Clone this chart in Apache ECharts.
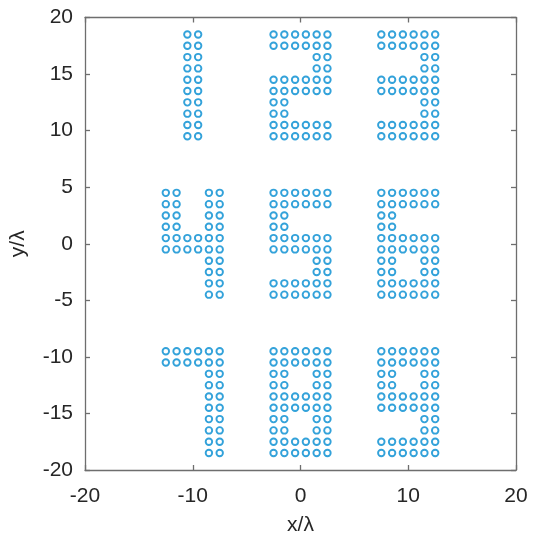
<!DOCTYPE html>
<html>
<head>
<meta charset="utf-8">
<script src="https://cdn.jsdelivr.net/npm/echarts@6/dist/echarts.min.js"></script>
<style>html,body{margin:0;padding:0;background:#fff;}#c{width:535px;height:550px;}</style>
</head>
<body>
<div id="c"></div>
<script>
// Digit bitmaps (6 columns x 10 rows, 'o' = element)
const digit1 = ['..oo..','..oo..','..oo..','..oo..','..oo..','..oo..','..oo..','..oo..','..oo..','..oo..'];
const digit2 = ['oooooo','oooooo','....oo','....oo','oooooo','oooooo','oo....','oo....','oooooo','oooooo'];
const digit3 = ['oooooo','oooooo','....oo','....oo','oooooo','oooooo','....oo','....oo','oooooo','oooooo'];
const digit4 = ['oo..oo','oo..oo','oo..oo','oo..oo','oooooo','oooooo','....oo','....oo','....oo','....oo'];
const digit5 = ['oooooo','oooooo','oo....','oo....','oooooo','oooooo','....oo','....oo','oooooo','oooooo'];
const digit6 = ['oooooo','oooooo','oo....','oo....','oooooo','oooooo','oo..oo','oo..oo','oooooo','oooooo'];
const digit7 = ['oooooo','oooooo','....oo','....oo','....oo','....oo','....oo','....oo','....oo','....oo'];
const digit8 = ['oooooo','oooooo','oo..oo','oo..oo','oooooo','oooooo','oo..oo','oo..oo','oooooo','oooooo'];
const digit9 = ['oooooo','oooooo','oo..oo','oo..oo','oooooo','oooooo','....oo','....oo','oooooo','oooooo'];
// Left column x and top row y of each digit block (in λ)
const blockLeftX = [-12.5, -2.5, 7.5];
const blockTopY = [18.5, 4.5, -9.5];
const elementPitch = 1;
const xTicks = [-20, -10, 0, 10, 20];
const yTicks = [-20, -15, -10, -5, 0, 5, 10, 15, 20];

const digits = [digit1, digit2, digit3, digit4, digit5, digit6, digit7, digit8, digit9];
const points = [];
digits.forEach((pat, k) => {
  const r = Math.floor(k / 3), c = k % 3;
  pat.forEach((rowStr, i) => {
    for (let j = 0; j < rowStr.length; j++) {
      if (rowStr[j] === 'o') points.push([blockLeftX[c] + j * elementPitch, blockTopY[r] - i * elementPitch]);
    }
  });
});

const axisColor = '#6e6e6e';
const labelColor = '#262626';
const font = 'Liberation Sans, Arial, sans-serif';
const chart = echarts.init(document.getElementById('c'), null, {renderer: 'canvas'});
const baseAxis = (show) => ({
  min: -20, max: 20,
  axisLine: {show: true, onZero: false, lineStyle: {color: axisColor, width: 1.3}},
  axisTick: {show: true, inside: true, length: 5, lineStyle: {color: axisColor, width: 1.3}},
  splitLine: {show: false},
  axisLabel: {show: show, color: labelColor, fontSize: 21, fontFamily: font}
});
chart.setOption({
  animation: false,
  backgroundColor: '#ffffff',
  grid: {left: 85, right: 19, top: 17.5, bottom: 80, containLabel: false},
  xAxis: [
    Object.assign(baseAxis(true), {type: 'value', position: 'bottom', interval: 10,
      name: 'x/λ', nameLocation: 'middle', nameGap: 45,
      nameTextStyle: {color: labelColor, fontSize: 21, fontFamily: font},
      axisLabel: {show: true, color: labelColor, fontSize: 21, fontFamily: font, margin: 16,
        formatter: v => xTicks.includes(v) ? String(v) : ''}}),
    Object.assign(baseAxis(false), {type: 'value', position: 'top', interval: 10})
  ],
  yAxis: [
    Object.assign(baseAxis(true), {type: 'value', position: 'left', interval: 5,
      name: 'y/λ', nameLocation: 'middle', nameGap: 56,
      nameTextStyle: {color: labelColor, fontSize: 21, fontFamily: font},
      axisLabel: {show: true, color: labelColor, fontSize: 21, fontFamily: font, margin: 12,
        formatter: v => yTicks.includes(v) ? String(v) : ''}}),
    Object.assign(baseAxis(false), {type: 'value', position: 'right', interval: 5})
  ],
  series: [{
    type: 'scatter',
    xAxisIndex: 0, yAxisIndex: 0,
    data: points,
    symbol: 'circle',
    symbolSize: 6.5,
    itemStyle: {color: '#ffffff', borderColor: '#33a2da', borderWidth: 1.9, opacity: 1}
  }]
});
</script>
</body>
</html>
